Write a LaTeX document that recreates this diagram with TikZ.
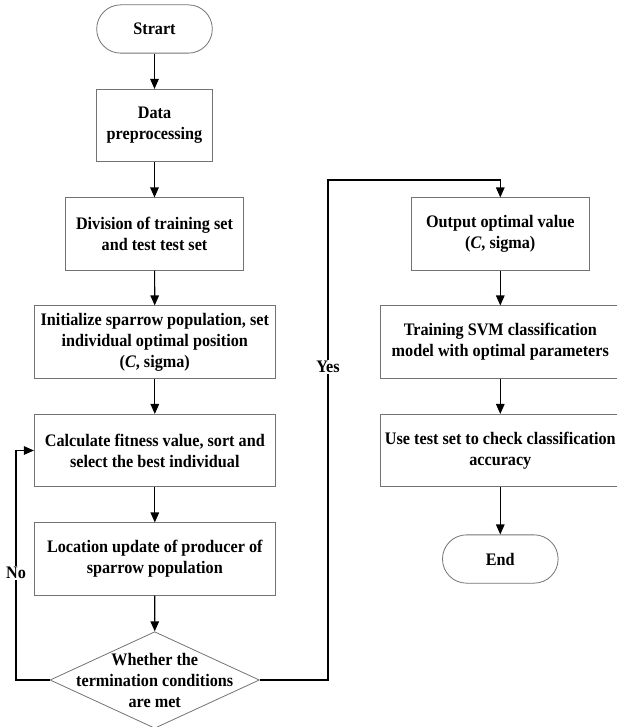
\documentclass[tikz,border=0pt]{standalone}
\usepackage{fontspec}
\setmainfont{Liberation Serif}[FakeStretch=0.92]
\usetikzlibrary{shapes.geometric,arrows.meta}
\begin{document}
\begin{tikzpicture}[x=1pt,y=-1pt,
  every node/.style={font=\fontsize{17.6pt}{21pt}\selectfont\bfseries, align=center, inner sep=0pt},
  boxstyle/.style={draw=black!55, line width=0.8pt, rectangle, minimum height=72.3pt},
  termstyle/.style={draw=black!55, line width=0.8pt, rectangle, rounded corners=24pt, minimum width=115.6pt, minimum height=48.3pt},
  diastyle/.style={draw=black!55, line width=0.8pt, diamond, minimum width=209.4pt, minimum height=96.6pt},
  flow/.style={draw=black, line width=1.2pt, -{Triangle[length=10pt,width=8.5pt]}},
  lbl/.style={fill=white, inner sep=1.5pt}
]
\useasboundingbox (0,0) rectangle (616,727);
% left column
\node[termstyle] (start) at (154.5,29) {Strart};
\node[boxstyle, minimum width=115.6pt] (data) at (154.5,125.5) {Data\\preprocessing};
\node[boxstyle, minimum width=177.7pt] (div) at (154.5,234) {Division of training set\\and test test set};
\node[boxstyle, minimum width=241pt] (init) at (154.8,342) {Initialize sparrow population, set\\individual optimal position\\(\textit{C}, sigma)};
\node[boxstyle, minimum width=241pt] (calc) at (154.8,450.5) {Calculate fitness value, sort and\\select the best individual};
\node[boxstyle, minimum width=241pt] (loc) at (154.8,559) {Location update of producer of\\sparrow population};
\node[diastyle] (dec) at (154.7,680) {};
\node (dectext) at (dec.center) {Whether the\\termination conditions\\are met};
% right column
\node[boxstyle, minimum width=178pt] (out) at (500.3,234) {Output optimal value\\(\textit{C}, sigma)};
\node[boxstyle, minimum width=240pt] (train) at (500.3,342) {Training SVM classification\\model with optimal parameters};
\node[boxstyle, minimum width=240pt] (use) at (500.3,450.5) {Use test set to check classification\\accuracy};
\node[termstyle] (end) at (500.3,559) {End};
% corner coordinates
\coordinate (nob) at (16,680);
\coordinate (not) at (16,450.5);
\coordinate (yesb) at (328,680);
\coordinate (yest) at (328,180);
\coordinate (outt) at (500.3,180);
% connectors
\draw[flow] (start) -- (data);
\draw[flow] (data) -- (div);
\draw[flow] (div) -- (init);
\draw[flow] (init) -- (calc);
\draw[flow] (calc) -- (loc);
\draw[flow] (loc) -- (dec);
\draw[flow] (out) -- (train);
\draw[flow] (train) -- (use);
\draw[flow] (use) -- (end);
\draw[flow] (dec.west) -- (nob) -- (not) -- (calc.west);
\draw[flow] (dec.east) -- (yesb) -- (yest) -- (outt) -- (out.north);
\node[lbl] (nolbl) at (16,573) {No};
\node[lbl] (yeslbl) at (328,367) {Yes};
\end{tikzpicture}
\end{document}
